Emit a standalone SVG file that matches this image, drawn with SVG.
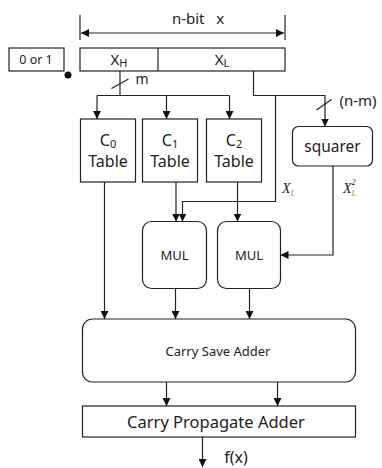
<svg xmlns="http://www.w3.org/2000/svg" width="382" height="468" viewBox="0 0 382 468">
<defs>
<marker id="ah" markerWidth="8" markerHeight="8" refX="8" refY="4" orient="auto" markerUnits="userSpaceOnUse">
<path d="M0,0 L8,4 L0,8 Z" fill="#111"/>
</marker>
<marker id="ahs" markerWidth="8" markerHeight="8" refX="0" refY="4" orient="auto" markerUnits="userSpaceOnUse">
<path d="M8,0 L0,4 L8,8 Z" fill="#111"/>
</marker>
</defs>
<style>
.b{fill:#fff;stroke:#222;stroke-width:1.2}
.l{fill:none;stroke:#222;stroke-width:1.2}
.t{font-family:"Noto Sans","DejaVu Sans",sans-serif;fill:#222;text-anchor:middle}
.i{font-family:"Liberation Serif",serif;font-style:italic;fill:#222}
</style>
<rect width="382" height="468" fill="#fff"/>

<g id="dimension">
<line class="l" x1="80" y1="15" x2="80" y2="40"/>
<line class="l" x1="285" y1="15" x2="285" y2="40"/>
<line class="l" x1="81" y1="33" x2="284" y2="33" marker-start="url(#ahs)" marker-end="url(#ah)"/>
<text class="t" x="198" y="24" font-size="15" xml:space="preserve">n-bit   x</text>
</g>

<g id="sel">
<rect class="b" x="9" y="48" width="55" height="23"/>
<text class="t" x="36" y="64" font-size="12.5">0 or 1</text>
<circle cx="68" cy="75" r="3.5" fill="#111"/>
</g>

<g id="register">
<rect class="b" x="80" y="48" width="205" height="23"/>
<line class="l" x1="158" y1="48" x2="158" y2="71"/>
<text class="t" x="119" y="65" font-size="15">X<tspan font-size="11" dy="2">H</tspan></text>
<text class="t" x="222" y="65" font-size="15">X<tspan font-size="11" dy="2">L</tspan></text>
</g>

<g id="c0">
<rect class="b" x="80.5" y="119" width="55" height="63"/>
<text class="t" x="108" y="146" font-size="16">C<tspan font-size="11" dy="2">0</tspan></text>
<text class="t" x="108" y="167" font-size="16">Table</text>
</g>
<g id="c1">
<rect class="b" x="142.5" y="119" width="55" height="63"/>
<text class="t" x="170" y="146" font-size="16">C<tspan font-size="11" dy="2">1</tspan></text>
<text class="t" x="170" y="167" font-size="16">Table</text>
</g>
<g id="c2">
<rect class="b" x="206.5" y="119" width="55" height="63"/>
<text class="t" x="234" y="146" font-size="16">C<tspan font-size="11" dy="2">2</tspan></text>
<text class="t" x="234" y="167" font-size="16">Table</text>
</g>

<g id="squarer">
<rect class="b" x="292.5" y="126.5" width="80" height="39.5" rx="6"/>
<text class="t" x="332.5" y="152" font-size="15.5">squarer</text>
</g>

<g id="mul1">
<rect class="b" x="142.5" y="221.5" width="64" height="67" rx="9"/>
<text class="t" x="174.5" y="260" font-size="13">MUL</text>
</g>
<g id="mul2">
<rect class="b" x="217.5" y="221.5" width="63" height="67" rx="9"/>
<text class="t" x="249" y="260" font-size="13">MUL</text>
</g>

<g id="csa">
<rect class="b" x="82.5" y="319" width="273" height="63" rx="10"/>
<text class="t" x="218" y="356" font-size="13">Carry Save Adder</text>
</g>

<g id="cpa">
<rect class="b" x="82.5" y="406" width="273" height="31"/>
<text class="t" x="216" y="428" font-size="16.5">Carry Propagate Adder</text>
</g>

<g id="connectors">
<polyline class="l" points="120,71 120,95.5"/>
<polyline class="l" points="97,95.5 229.5,95.5"/>
<line class="l" x1="97" y1="95.5" x2="97" y2="119" marker-end="url(#ah)"/>
<line class="l" x1="166.5" y1="95.5" x2="166.5" y2="119" marker-end="url(#ah)"/>
<line class="l" x1="229.5" y1="95.5" x2="229.5" y2="119" marker-end="url(#ah)"/>
<line class="l" x1="111.5" y1="88.5" x2="128.5" y2="79"/>
<text class="t" x="142" y="84" font-size="14">m</text>
<polyline class="l" points="253.5,71 253.5,95.5 325,95.5 325,126.5" marker-end="url(#ah)"/>
<line class="l" x1="316.5" y1="110" x2="331.5" y2="99.5"/>
<text class="t" x="358" y="106" font-size="15">(n-m)</text>
<polyline class="l" points="275.5,95.5 275.5,201.5 182.5,201.5 182.5,221.5" marker-end="url(#ah)"/>
<text class="i" x="282" y="193" font-size="14">X<tspan font-size="9" dy="3" fill="#c8862a">L</tspan></text>
<line class="l" x1="176" y1="182" x2="176" y2="221.5" marker-end="url(#ah)"/>
<line class="l" x1="237.5" y1="182" x2="237.5" y2="221.5" marker-end="url(#ah)"/>
<line class="l" x1="104.5" y1="182" x2="104.5" y2="319" marker-end="url(#ah)"/>
<polyline class="l" points="333,166 333,255 280.5,255" marker-end="url(#ah)"/>
<text class="i" x="343" y="193" font-size="14">X<tspan font-size="9" dy="3" fill="#c8862a">L</tspan><tspan font-size="8" dx="-5" dy="-11">2</tspan></text>
<line class="l" x1="175.5" y1="288.5" x2="175.5" y2="319" marker-end="url(#ah)"/>
<line class="l" x1="249.5" y1="288.5" x2="249.5" y2="319" marker-end="url(#ah)"/>
<line class="l" x1="166.5" y1="382" x2="166.5" y2="406" marker-end="url(#ah)"/>
<line class="l" x1="277.5" y1="382" x2="277.5" y2="406" marker-end="url(#ah)"/>
<line class="l" x1="202.5" y1="437" x2="202.5" y2="467" marker-end="url(#ah)"/>
<text class="t" x="236" y="463" font-size="16">f(x)</text>
</g>
</svg>
